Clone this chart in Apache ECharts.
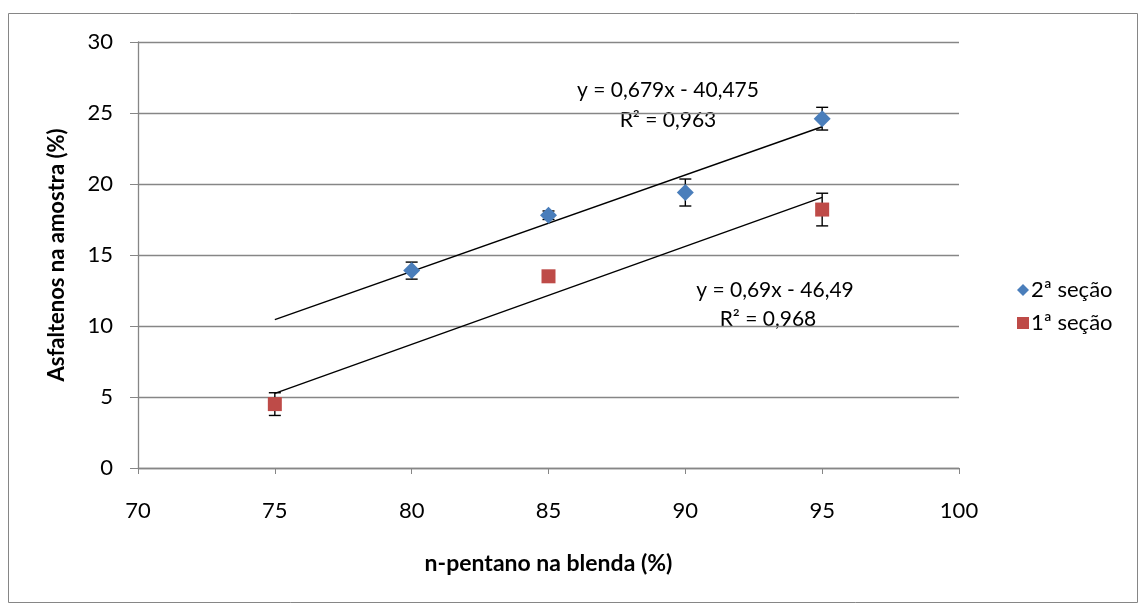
<!DOCTYPE html>
<html><head><meta charset="utf-8">
<script src="https://cdn.jsdelivr.net/npm/echarts@6/dist/echarts.min.js"></script>
<style>html,body{margin:0;padding:0;background:#fff}#c{width:1139px;height:604px}</style>
</head><body><div id="c"></div>
<script>
// Data
const x2 = [80, 85, 90, 95];
const y2 = [13.9, 17.8, 19.4, 24.6];
const err2 = [0.6, 0.3, 0.95, 0.8];
const x1 = [75, 85, 95];
const y1 = [4.5, 13.5, 18.2];
const err1 = [0.8, 0.25, 1.15];
const trend2X = [75, 95];
const trend2Y = [10.45, 24.03];
const trend1X = [75, 95];
const trend1Y = [5.26, 19.06];
const seriesNames = ['2ª seção', '1ª seção'];
const eq2 = ['y = 0,679x - 40,475', 'R² = 0,963'];
const eq1 = ['y = 0,69x - 46,49', 'R² = 0,968'];
const xTitle = 'n-pentano na blenda (%)';
const yTitle = 'Asfaltenos na amostra (%)';

const FONT = 'Lato, "Open Sans", sans-serif';
const BLUE = '#4a7ebb';
const RED = '#be4b48';

const zip = (a, b) => a.map((v, i) => [v, b[i]]);
const zip3 = (a, b, c) => a.map((v, i) => [v, b[i], c[i]]);

function errRender(params, api) {
  const x = api.value(0), y = api.value(1), e = api.value(2);
  const top = api.coord([x, y + e]);
  const bot = api.coord([x, y - e]);
  const w = 6;
  const style = { stroke: '#000', lineWidth: 1.4 };
  return {
    type: 'group',
    children: [
      { type: 'line', shape: { x1: top[0], y1: top[1], x2: bot[0], y2: bot[1] }, style },
      { type: 'line', shape: { x1: top[0] - w, y1: top[1], x2: top[0] + w, y2: top[1] }, style },
      { type: 'line', shape: { x1: bot[0] - w, y1: bot[1], x2: bot[0] + w, y2: bot[1] }, style }
    ]
  };
}

const chart = echarts.init(document.getElementById('c'), null, { renderer: 'canvas' });
chart.setOption({
  animation: false,
  backgroundColor: '#fff',
  textStyle: { fontFamily: FONT },
  grid: { left: 138, right: 180, top: 42, bottom: 136, containLabel: false },
  xAxis: {
    type: 'value', min: 70, max: 100, interval: 5,
    name: xTitle, nameLocation: 'middle', nameGap: 84,
    nameTextStyle: { fontFamily: FONT, fontSize: 23, fontWeight: 'bold', color: '#000' },
    axisLine: { show: true, lineStyle: { color: '#868686', width: 1.3 } },
    axisTick: { show: true, length: 6, lineStyle: { color: '#868686' } },
    axisLabel: { fontFamily: FONT, fontSize: 22, color: '#000', margin: 32 },
    splitLine: { show: false }
  },
  yAxis: {
    type: 'value', min: 0, max: 30, interval: 5,
    name: yTitle, nameLocation: 'middle', nameGap: 70, nameRotate: 90,
    nameTextStyle: { fontFamily: FONT, fontSize: 22, fontWeight: 'bold', color: '#000' },
    axisLine: { show: true, lineStyle: { color: '#868686', width: 1.3 } },
    axisTick: { show: true, length: 8, inside: false, lineStyle: { color: '#868686' } },
    axisLabel: { fontFamily: FONT, fontSize: 22, color: '#000', margin: 25 },
    splitLine: { show: true, lineStyle: { color: '#868686', width: 1.3 } }
  },
  legend: {
    orient: 'vertical', left: 1017, top: 279, itemGap: 11,
    itemWidth: 12, itemHeight: 12, padding: 0,
    data: [
      { name: seriesNames[0], icon: 'diamond' },
      { name: seriesNames[1], icon: 'rect' }
    ],
    textStyle: { fontFamily: FONT, fontSize: 22, color: '#000', padding: [0, 0, 0, -3] }
  },
  series: [
    { type: 'line', data: zip(trend2X, trend2Y), symbol: 'none', silent: true,
      lineStyle: { color: '#000', width: 1.4 }, z: 3 },
    { type: 'line', data: zip(trend1X, trend1Y), symbol: 'none', silent: true,
      lineStyle: { color: '#000', width: 1.4 }, z: 3 },
    { type: 'custom', data: zip3(x2, y2, err2), renderItem: errRender, z: 4 },
    { type: 'custom', data: zip3(x1, y1, err1), renderItem: errRender, z: 4 },
    { name: seriesNames[0], type: 'scatter', data: zip(x2, y2), symbol: 'diamond',
      symbolSize: 17, itemStyle: { color: BLUE, opacity: 1 }, z: 5 },
    { name: seriesNames[1], type: 'scatter', data: zip(x1, y1), symbol: 'rect',
      symbolSize: 14, itemStyle: { color: RED, opacity: 1 }, z: 5 }
  ],
  graphic: [
    { type: 'rect', shape: { x: 8.5, y: 13.5, width: 1129, height: 589 },
      style: { fill: 'none', stroke: '#868686', lineWidth: 1 }, silent: true, z: -1 },
    { type: 'text', x: 668, y: 90, style: { text: eq2[0], font: '21px ' + FONT, fill: '#000', align: 'center', verticalAlign: 'middle' } },
    { type: 'text', x: 668, y: 120, style: { text: eq2[1], font: '21px ' + FONT, fill: '#000', align: 'center', verticalAlign: 'middle' } },
    { type: 'text', x: 775, y: 290, style: { text: eq1[0], font: '21px ' + FONT, fill: '#000', align: 'center', verticalAlign: 'middle' } },
    { type: 'text', x: 768, y: 319, style: { text: eq1[1], font: '21px ' + FONT, fill: '#000', align: 'center', verticalAlign: 'middle' } }
  ]
});
</script>
</body></html>
